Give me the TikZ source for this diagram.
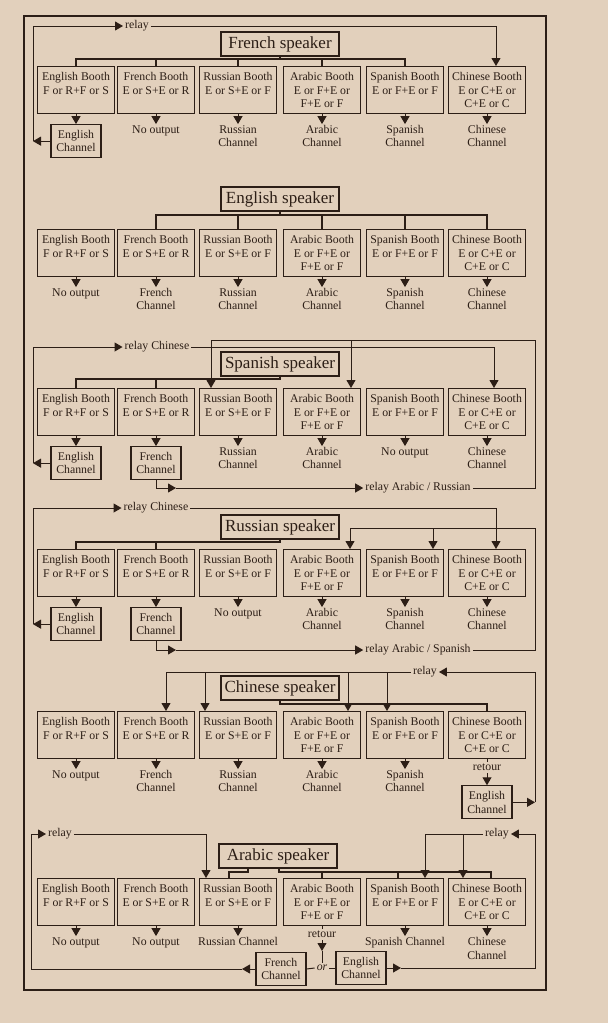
\documentclass[tikz,border=0pt]{standalone}
\usepackage{fontspec}
\setmainfont{Liberation Serif}
\usetikzlibrary{positioning,arrows.meta}
\definecolor{paper}{RGB}{226,208,188}
\definecolor{ink}{RGB}{44,30,22}
\newcommand{\boothfont}{\fontsize{11.8}{13.5}\selectfont}
\newcommand{\speakerfont}{\fontsize{17}{19}\selectfont}

\begin{document}
\begin{tikzpicture}[x=1pt, y=-1pt, >={Triangle[width=9pt,length=8pt]}, color=ink,
    booth/.style={draw, line width=1.1pt, align=center, anchor=north,
        minimum width=77pt, minimum height=47pt, inner sep=1pt, font=\boothfont},
    speaker/.style={draw, line width=1.1pt, minimum width=118pt, minimum height=24pt,
        inner sep=2pt, font=\speakerfont},
    channel/.style={draw, line width=1.1pt, align=center, minimum width=50pt,
        minimum height=33pt, inner xsep=3pt, inner ysep=2pt, font=\boothfont},
    outtext/.style={align=center, inner sep=1pt, font=\boothfont},
    tag/.style={inner sep=2pt, font=\boothfont},
    branch/.style={line width=2pt},
    wire/.style={line width=1pt}]

    % paper and frame
    \fill[paper] (0,0) rectangle (608,1023);
    \draw[line width=1.3pt] (24,16) rectangle (546,990);

    % the six booths, once for every speaker
    \foreach \s/\y in {fr/66, en/229, sp/388, ru/549, zh/711, ar/878} {
        \node[booth] (\s-en) at (76,\y) {English Booth\\F or R+F or S\\~};
        \node[booth] (\s-fr) at (156,\y) {French Booth\\E or S+E or R\\~};
        \node[booth] (\s-ru) at (238,\y) {Russian Booth\\E or S+E or F\\~};
        \node[booth] (\s-ar) at (322,\y) {Arabic Booth\\E or F+E or\\F+E or F};
        \node[booth] (\s-sp) at (405,\y) {Spanish Booth\\E or F+E or F\\~};
        \node[booth] (\s-zh) at (487,\y) {Chinese Booth\\E or C+E or\\C+E or C};
    }

    % French speaker
    \node[speaker] (fr) at (280,44) {French speaker};
    \coordinate (fr-b) at (0,59);
    \draw[branch] (fr.south) -- (fr.south |- fr-b);
    \draw[branch] (fr-en.north) -- (fr-en.north |- fr-b) -- (fr-sp.north |- fr-b) -- (fr-sp.north);
    \foreach \b in {fr,ru,ar} \draw[branch] (fr-\b.north) -- (fr-\b.north |- fr-b);

    \node[channel] (fr-en-o) [below=10pt of fr-en] {English\\Channel};
    \node[outtext] (fr-fr-o) [below=10pt of fr-fr] {No output};
    \node[outtext] (fr-ru-o) [below=10pt of fr-ru] {Russian\\Channel};
    \node[outtext] (fr-ar-o) [below=10pt of fr-ar] {Arabic\\Channel};
    \node[outtext] (fr-sp-o) [below=10pt of fr-sp] {Spanish\\Channel};
    \node[outtext] (fr-zh-o) [below=10pt of fr-zh] {Chinese\\Channel};
    \foreach \b in {en,fr,ru,ar,sp,zh} \draw[wire,->] (fr-\b.south) -- (fr-\b-o.north);

    \coordinate (fr-l) at (33,26);
    \coordinate (fr-z) at (496,26);
    \node[tag] (fr-rel) at (137,26) {relay};
    \draw[wire,->] (fr-en-o.west) -- (fr-en-o.west -| fr-l);
    \draw[wire,->] (fr-en-o.west -| fr-l) -- (fr-l) -- (fr-rel.west);
    \draw[wire,->] (fr-rel.east) -- (fr-z) -- (fr-z |- fr-zh.north);

    % English speaker
    \node[speaker] (en) at (280,199) {English speaker};
    \coordinate (en-b) at (0,215);
    \draw[branch] (en.south) -- (en.south |- en-b);
    \draw[branch] (en-fr.north) -- (en-fr.north |- en-b) -- (en-zh.north |- en-b) -- (en-zh.north);
    \foreach \b in {ru,ar,sp} \draw[branch] (en-\b.north) -- (en-\b.north |- en-b);

    \node[outtext] (en-en-o) [below=10pt of en-en] {No output};
    \node[outtext] (en-fr-o) [below=10pt of en-fr] {French\\Channel};
    \node[outtext] (en-ru-o) [below=10pt of en-ru] {Russian\\Channel};
    \node[outtext] (en-ar-o) [below=10pt of en-ar] {Arabic\\Channel};
    \node[outtext] (en-sp-o) [below=10pt of en-sp] {Spanish\\Channel};
    \node[outtext] (en-zh-o) [below=10pt of en-zh] {Chinese\\Channel};
    \foreach \b in {en,fr,ru,ar,sp,zh} \draw[wire,->] (en-\b.south) -- (en-\b-o.north);

    % Spanish speaker
    \node[speaker] (sp) at (280,364) {Spanish speaker};
    \coordinate (sp-b) at (0,379);
    \draw[branch] (sp-en.north) -- (sp-en.north |- sp-b) -- (sp.south |- sp-b) -- (sp.south);
    \draw[branch] (sp-fr.north) -- (sp-fr.north |- sp-b);

    \node[channel] (sp-en-o) [below=10pt of sp-en] {English\\Channel};
    \node[channel] (sp-fr-o) [below=10pt of sp-fr] {French\\Channel};
    \node[outtext] (sp-ru-o) [below=10pt of sp-ru] {Russian\\Channel};
    \node[outtext] (sp-ar-o) [below=10pt of sp-ar] {Arabic\\Channel};
    \node[outtext] (sp-sp-o) [below=10pt of sp-sp] {No output};
    \node[outtext] (sp-zh-o) [below=10pt of sp-zh] {Chinese\\Channel};
    \foreach \b in {en,fr,ru,ar,sp,zh} \draw[wire,->] (sp-\b.south) -- (sp-\b-o.north);

    \coordinate (sp-l) at (33,347);
    \coordinate (sp-z) at (494,347);
    \node[tag] (sp-rel) at (157,347) {relay Chinese};
    \draw[wire,->] (sp-en-o.west) -- (sp-en-o.west -| sp-l);
    \draw[wire,->] (sp-en-o.west -| sp-l) -- (sp-l) -- (sp-rel.west);
    \draw[wire,->] (sp-rel.east) -- (sp-z) -- (sp-z |- sp-zh.north);

    \coordinate (sp-m) at (176,488);
    \coordinate (sp-r) at (535,340);
    \coordinate (sp-ru-in) at (211,340);
    \coordinate (sp-ar-in) at (351,340);
    \node[tag] (sp-rel2) at (418,488) {relay Arabic / Russian};
    \draw[wire,->] (sp-fr-o.south) |- (sp-m);
    \draw[wire,->] (sp-m) -- (sp-rel2.west);
    \draw[wire] (sp-rel2.east) -| (sp-r) -- (sp-ru-in);
    \draw[wire,->] (sp-ru-in) -- (sp-ru-in |- sp-ru.north);
    \draw[wire,->] (sp-ar-in) -- (sp-ar-in |- sp-ar.north);

    % Russian speaker
    \node[speaker] (ru) at (280,527) {Russian speaker};
    \coordinate (ru-b) at (0,542);
    \draw[branch] (ru-en.north) -- (ru-en.north |- ru-b) -- (ru.south |- ru-b) -- (ru.south);
    \draw[branch] (ru-fr.north) -- (ru-fr.north |- ru-b);

    \node[channel] (ru-en-o) [below=10pt of ru-en] {English\\Channel};
    \node[channel] (ru-fr-o) [below=10pt of ru-fr] {French\\Channel};
    \node[outtext] (ru-ru-o) [below=10pt of ru-ru] {No output};
    \node[outtext] (ru-ar-o) [below=10pt of ru-ar] {Arabic\\Channel};
    \node[outtext] (ru-sp-o) [below=10pt of ru-sp] {Spanish\\Channel};
    \node[outtext] (ru-zh-o) [below=10pt of ru-zh] {Chinese\\Channel};
    \foreach \b in {en,fr,ru,ar,sp,zh} \draw[wire,->] (ru-\b.south) -- (ru-\b-o.north);

    \coordinate (ru-l) at (33,508);
    \coordinate (ru-z) at (496,508);
    \node[tag] (ru-rel) at (156,508) {relay Chinese};
    \draw[wire,->] (ru-en-o.west) -- (ru-en-o.west -| ru-l);
    \draw[wire,->] (ru-en-o.west -| ru-l) -- (ru-l) -- (ru-rel.west);
    \draw[wire,->] (ru-rel.east) -- (ru-z) -- (ru-z |- ru-zh.north);

    \coordinate (ru-m) at (176,650);
    \coordinate (ru-r) at (535,528);
    \coordinate (ru-ar-in) at (350,528);
    \coordinate (ru-sp-in) at (433,528);
    \node[tag] (ru-rel2) at (418,650) {relay Arabic / Spanish};
    \draw[wire,->] (ru-fr-o.south) |- (ru-m);
    \draw[wire,->] (ru-m) -- (ru-rel2.west);
    \draw[wire] (ru-rel2.east) -| (ru-r) -- (ru-ar-in);
    \draw[wire,->] (ru-ar-in) -- (ru-ar-in |- ru-ar.north);
    \draw[wire,->] (ru-sp-in) -- (ru-sp-in |- ru-sp.north);

    % Chinese speaker
    \node[speaker] (zh) at (280,688) {Chinese speaker};
    \coordinate (zh-b) at (0,704);
    \draw[branch] (zh.south) -- (zh.south |- zh-b) -- (zh-zh.north |- zh-b) -- (zh-zh.north);

    \node[outtext] (zh-en-o) [below=10pt of zh-en] {No output};
    \node[outtext] (zh-fr-o) [below=10pt of zh-fr] {French\\Channel};
    \node[outtext] (zh-ru-o) [below=10pt of zh-ru] {Russian\\Channel};
    \node[outtext] (zh-ar-o) [below=10pt of zh-ar] {Arabic\\Channel};
    \node[outtext] (zh-sp-o) [below=10pt of zh-sp] {Spanish\\Channel};
    \foreach \b in {en,fr,ru,ar,sp} \draw[wire,->] (zh-\b.south) -- (zh-\b-o.north);
    \node[tag] (zh-ret) [below=3pt of zh-zh] {retour};
    \node[channel] (zh-ch) [below=12pt of zh-ret] {English\\Channel};
    \draw[wire] (zh-zh.south) -- (zh-ret.north);
    \draw[wire,->] (zh-ret.south) -- (zh-ch.north);

    \coordinate (zh-r) at (535,672);
    \node[tag] (zh-rel) at (425,672) {relay};
    \draw[wire,->] (zh-ch.east) -- (zh-ch.east -| zh-r);
    \draw[wire,->] (zh-ch.east -| zh-r) -- (zh-r) -- (zh-rel.east);
    \coordinate (zh-fr-in) at (166,672);
    \draw[wire] (zh-rel.west) -- (zh-fr-in);
    \foreach \b/\x in {fr/166, ru/205, ar/348, sp/387} {
        \coordinate (zh-\b-in) at (\x,672);
        \draw[wire,->] (zh-\b-in) -- (zh-\b-in |- zh-\b.north);
    }

    % Arabic speaker
    \node[speaker] (ar) at (278,856) {Arabic speaker};
    \coordinate (ar-b) at (0,872);
    \coordinate (ar-s1) at (248,872);
    \coordinate (ar-s2) at (279,872);
    \coordinate (ar-ru-in) at (229,872);
    \coordinate (ar-sp-in) at (398,872);
    \coordinate (ar-zh-in) at (491,872);
    \draw[branch] (ar-s1 |- ar.south) -- (ar-s1) -- (ar-ru-in) -- (ar-ru-in |- ar-ru.north);
    \draw[branch] (ar-s2 |- ar.south) -- (ar-s2) -- (ar-zh-in) -- (ar-zh-in |- ar-zh.north);
    \draw[branch] (ar-ar.north |- ar-b) -- (ar-ar.north);
    \draw[branch] (ar-sp-in) -- (ar-sp-in |- ar-sp.north);

    \node[outtext] (ar-en-o) [below=10pt of ar-en] {No output};
    \node[outtext] (ar-fr-o) [below=10pt of ar-fr] {No output};
    \node[outtext] (ar-ru-o) [below=10pt of ar-ru] {Russian Channel};
    \node[outtext] (ar-sp-o) [below=10pt of ar-sp] {Spanish Channel};
    \node[outtext] (ar-zh-o) [below=10pt of ar-zh] {Chinese\\Channel};
    \foreach \b in {en,fr,ru,sp,zh} \draw[wire,->] (ar-\b.south) -- (ar-\b-o.north);

    \node[tag] (ar-ret) [below=3pt of ar-ar] {retour};
    \draw[wire] (ar-ar.south) -- (ar-ret.north);
    \node[tag, font=\boothfont\itshape] (ar-or) at (322,968) {or};
    \coordinate (ar-tip) at (322,951);
    \draw[wire,->] (ar-ret.south) -- (ar-tip);
    \draw[wire] (ar-tip) -- (ar-or.north);
    \node[channel] (ar-fch) at (281,969) {French\\Channel};
    \node[channel] (ar-ech) at (361,968) {English\\Channel};
    \draw[wire] (ar-fch.east) -- (ar-or.west);
    \draw[wire] (ar-or.east) -- (ar-ech.west);

    \coordinate (ar-l) at (31,834);
    \coordinate (ar-t1) at (242,969);
    \coordinate (ar-ru-r) at (206,834);
    \node[tag] (ar-rel) at (60,834) {relay};
    \draw[wire,->] (ar-fch.west) -- (ar-t1);
    \draw[wire,->] (ar-t1) -- (ar-t1 -| ar-l) -- (ar-l) -- (ar-rel.west);
    \draw[wire,->] (ar-rel.east) -- (ar-ru-r) -- (ar-ru-r |- ar-ru.north);

    \coordinate (ar-r) at (535,834);
    \coordinate (ar-t2) at (401,968);
    \coordinate (ar-sp-r) at (425,834);
    \coordinate (ar-zh-r) at (463,834);
    \node[tag] (ar-rel2) at (497,834) {relay};
    \draw[wire,->] (ar-ech.east) -- (ar-t2);
    \draw[wire,->] (ar-t2) -- (ar-t2 -| ar-r) -- (ar-r) -- (ar-rel2.east);
    \draw[wire] (ar-rel2.west) -- (ar-sp-r);
    \draw[wire,->] (ar-sp-r) -- (ar-sp-r |- ar-sp.north);
    \draw[wire,->] (ar-zh-r) -- (ar-zh-r |- ar-zh.north);
\end{tikzpicture}
\end{document}
